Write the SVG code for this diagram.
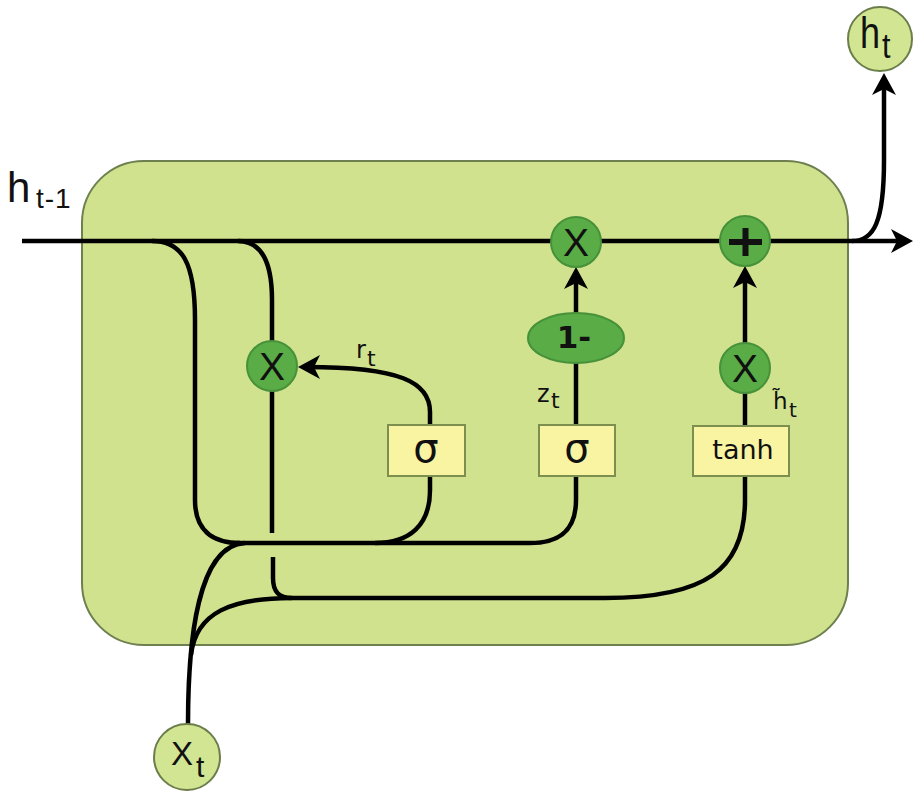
<svg xmlns="http://www.w3.org/2000/svg" width="914" height="792" viewBox="0 0 914 792">
<defs>
<style>
.wire{fill:none;stroke:#000;stroke-width:4.5;stroke-linecap:butt}
.op{fill:#5aac46;stroke:#47913a;stroke-width:2}
.box{fill:#f8f4a2;stroke:#7d8f4e;stroke-width:2}
.io{fill:#d2e592;stroke:#6b7d4a;stroke-width:2}
.t{font-family:"Liberation Sans",Arial,sans-serif;fill:#111}
.d{font-family:"DejaVu Sans",Verdana,sans-serif;fill:#111}
</style>
<marker id="ah" markerUnits="userSpaceOnUse" markerWidth="24" markerHeight="24" refX="14" refY="12" orient="auto" viewBox="0 0 24 24">
<path d="M0,0 L22,12 L0,24 L6,12 z" fill="#000"/>
</marker>
</defs>
<rect width="914" height="792" fill="#fff"/>
<g id="cell"><rect x="82" y="161" width="766" height="484" rx="62" ry="62" fill="#d0e28e" stroke="#6e8050" stroke-width="2"/></g>
<g id="label-hprev"><text class="t" x="7" y="202" font-size="42">h</text><text class="t" x="36" y="208" font-size="28" letter-spacing="1">t-1</text></g>
<g id="connectors">
<path class="wire" d="M22,241 H905" marker-end="url(#ah)"/>
<path class="wire" d="M152,241 C182,241 195,262 195,320 V500 C195,530 212,543 240,543"/>
<path class="wire" d="M238,241 C262,241 272,262 272,300 V533"/>
<path class="wire" d="M273,557 V578 C273,592 279,598 292,598 H605 C705,598 745,570 745,500 V476"/>
<path class="wire" d="M237,543 H530 C562,543 576,528 576,500 V476"/>
<path class="wire" d="M430,476 V490 C430,525 410,543 375,543"/>
<path class="wire" d="M188,724 C188,640 198,545 245,543"/>
<path class="wire" d="M191,655 C196,612 232,598 292,598"/>
<path class="wire" d="M430,425 V412 C430,382 400,367 306,367" marker-end="url(#ah)"/>
<path class="wire" d="M576,425 V362"/>
<path class="wire" d="M576,313 V275" marker-end="url(#ah)"/>
<path class="wire" d="M745,426 V393"/>
<path class="wire" d="M745,343 V274" marker-end="url(#ah)"/>
<path class="wire" d="M852,241 C874,241 884,222 884,160 V81" marker-end="url(#ah)"/>
</g>
<g id="mul-reset"><circle class="op" cx="272" cy="366" r="25"/><text class="t" x="272" y="380" font-size="39" text-anchor="middle">X</text></g>
<g id="mul-update"><circle class="op" cx="576" cy="242" r="25"/><text class="t" x="576" y="256" font-size="39" text-anchor="middle">X</text></g>
<g id="add"><circle class="op" cx="745" cy="241" r="25"/><path d="M729,242 H762 M745.5,228 V256" stroke="#111" stroke-width="6"/></g>
<g id="one-minus"><ellipse class="op" cx="576" cy="338" rx="48" ry="25"/><text class="d" x="574" y="348" font-size="31" font-weight="bold" text-anchor="middle" font-family="'DejaVu Sans Mono',monospace">1-</text></g>
<g id="mul-cand"><circle class="op" cx="745" cy="368" r="25"/><text class="t" x="745" y="382" font-size="39" text-anchor="middle">X</text></g>
<g id="sigma-r"><rect class="box" x="388" y="425" width="77" height="51"/><text class="d" x="426" y="462" font-size="40" text-anchor="middle">σ</text></g>
<g id="sigma-z"><rect class="box" x="539" y="425" width="76" height="51"/><text class="d" x="577" y="462" font-size="40" text-anchor="middle">σ</text></g>
<g id="tanh"><rect class="box" x="693" y="426" width="96" height="50"/><text class="d" x="743" y="459" font-size="27" text-anchor="middle">tanh</text></g>
<g id="label-rt"><text class="d" x="356" y="358" font-size="24">r</text><text class="d" x="367" y="366" font-size="22">t</text></g>
<g id="label-zt"><text class="d" x="537" y="402" font-size="24">z</text><text class="d" x="551" y="408" font-size="22">t</text></g>
<g id="label-ht"><text class="d" x="773" y="409" font-size="23">h̃</text><text class="d" x="789" y="417" font-size="20">t</text></g>
<g id="h-out"><circle class="io" cx="880" cy="39" r="32"/><text class="t" transform="translate(860,48) scale(0.82,1)" font-size="44">h</text><text class="t" transform="translate(882,58) scale(0.85,1)" font-size="36">t</text></g>
<g id="x-in"><circle class="io" cx="187" cy="757" r="33"/><text class="t" x="171" y="765" font-size="33">X</text><text class="t" x="196" y="777" font-size="30">t</text></g>
</svg>
